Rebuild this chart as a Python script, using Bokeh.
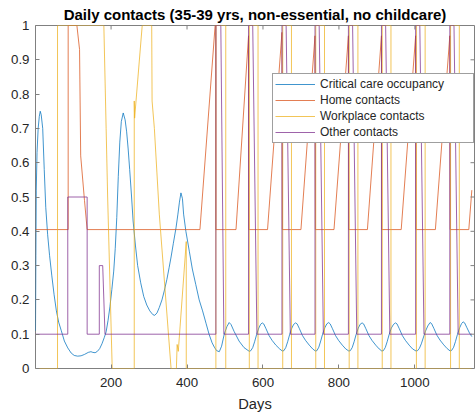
from bokeh.plotting import figure
from bokeh.models import Range1d, FixedTicker
from bokeh.embed import file_html
from bokeh.resources import INLINE

# ---- data (day, value) ----
cc_days = [1, 2, 3, 5, 8, 11, 13.5, 16, 20, 24, 28, 33, 38, 44, 50, 56, 62, 69, 77, 86,
           95, 103, 112, 121, 130, 140, 147, 152, 158, 164, 170, 176, 182, 187, 192, 197,
           202, 207, 211, 215, 219, 223, 227, 232, 237, 241, 245, 249, 254, 258, 264, 270,
           278, 286, 294, 302, 310, 315, 321, 327, 334, 340, 347, 353, 358, 364, 371, 376,
           380, 384, 388, 391, 397, 406, 414, 423, 432, 441, 450, 458, 466, 472, 478, 485,
           491, 498, 505, 511, 516, 524, 537, 550,
           564, 568, 573, 578, 583, 589, 594, 598, 602, 608, 616, 624, 634, 644,
           651, 655, 660, 665, 670, 676, 681, 686, 690, 696, 704, 712, 722, 731,
           738, 742, 747, 752, 757, 763, 768, 773, 777, 783, 791, 799, 809, 818,
           826, 830, 835, 840, 845, 851, 856, 861, 865, 871, 879, 887, 897, 906,
           913, 917, 922, 927, 932, 938, 944, 949, 953, 959, 967, 975, 985, 994,
           1003, 1007, 1012, 1017, 1022, 1028, 1034, 1040, 1044, 1050, 1058, 1066, 1076, 1085,
           1093, 1097, 1102, 1107, 1112, 1118, 1123, 1127, 1131, 1137, 1144, 1150]
cc_vals = [0.11, 0.33, 0.52, 0.63, 0.70, 0.735, 0.75, 0.74, 0.70, 0.58, 0.47, 0.39, 0.33, 0.27,
           0.215, 0.168, 0.135, 0.11, 0.08, 0.06, 0.045, 0.038, 0.036, 0.037, 0.041, 0.047,
           0.049, 0.047, 0.046, 0.05, 0.058, 0.072, 0.09, 0.107, 0.14, 0.18, 0.23, 0.284,
           0.35, 0.44, 0.56, 0.66, 0.72, 0.745, 0.725, 0.69, 0.64, 0.58, 0.50, 0.43, 0.36,
           0.30, 0.25, 0.21, 0.185, 0.168, 0.157, 0.155, 0.162, 0.178, 0.2, 0.226, 0.26,
           0.295, 0.325, 0.365, 0.41, 0.45, 0.485, 0.512, 0.495, 0.45, 0.40, 0.342, 0.29,
           0.245, 0.2, 0.168, 0.132, 0.1, 0.075, 0.062, 0.052, 0.049, 0.065, 0.1, 0.122,
           0.134, 0.128, 0.108, 0.08, 0.061,
           0.05, 0.052, 0.061, 0.078, 0.098, 0.118, 0.129, 0.133, 0.13, 0.116, 0.096, 0.082, 0.068, 0.057,
           0.051, 0.052, 0.061, 0.078, 0.098, 0.118, 0.129, 0.133, 0.13, 0.116, 0.096, 0.082, 0.068, 0.057,
           0.051, 0.052, 0.062, 0.08, 0.1, 0.119, 0.13, 0.134, 0.13, 0.116, 0.096, 0.082, 0.068, 0.057,
           0.051, 0.052, 0.061, 0.078, 0.098, 0.118, 0.129, 0.133, 0.13, 0.116, 0.096, 0.082, 0.068, 0.057,
           0.051, 0.052, 0.061, 0.078, 0.098, 0.118, 0.129, 0.133, 0.13, 0.116, 0.096, 0.082, 0.068, 0.057,
           0.051, 0.052, 0.059, 0.072, 0.089, 0.109, 0.124, 0.134, 0.131, 0.117, 0.097, 0.083, 0.069, 0.058,
           0.051, 0.053, 0.062, 0.079, 0.099, 0.119, 0.131, 0.136, 0.133, 0.119, 0.103, 0.093]

home_days = [1, 87, 87, 110, 117, 120, 130, 137, 434, 474, 476, 476, 529, 562, 563, 612,
             650, 651, 700, 737, 738, 787, 825, 826, 875, 912, 913, 964, 1002, 1003,
             1054, 1092, 1093, 1142, 1150]
home_vals = [0.405, 0.405, 1.0, 1.0, 0.93, 0.62, 0.49, 0.405, 0.405, 1.0, 1.0, 0.405,
             0.405, 0.97, 0.405, 0.405, 0.98, 0.405, 0.405, 0.97, 0.405, 0.405, 0.97,
             0.405, 0.405, 0.97, 0.405, 0.405, 0.97, 0.405, 0.405, 0.97, 0.405, 0.405, 0.52]

work_days = [1, 59, 59, 181, 187, 191, 203, 261, 261, 262, 282, 307, 308, 314, 327, 358,
             372, 374, 377, 398, 398, 476, 476, 502, 502,
             564, 564, 587, 587, 652, 652, 675, 675, 739, 739, 762, 762,
             827, 827, 850, 850, 914, 914, 937, 937, 1004, 1004, 1027, 1027,
             1094, 1094, 1117, 1117, 1150]
work_vals = [0, 0, 1, 1, 0.7, 0.5, 0, 0, 0.78, 0.73, 1, 1, 0.78, 0.70, 0.45, 0,
             0, 0.07, 0.05, 0.37, 0, 0, 1, 1, 0,
             0, 1, 1, 0, 0, 1, 1, 0, 0, 1, 1, 0,
             0, 1, 1, 0, 0, 1, 1, 0, 0, 1, 1, 0,
             0, 1, 1, 0, 0]

other_days = [1, 86, 86, 137, 137, 169, 169, 178, 184, 476, 476, 489, 497,
              562, 562, 573, 584, 650, 650, 661, 672, 737, 737, 748, 759,
              825, 825, 836, 847, 912, 912, 923, 934, 1002, 1002, 1013, 1024,
              1092, 1092, 1103, 1114, 1150]
other_vals = [0.1, 0.1, 0.5, 0.5, 0.1, 0.1, 0.3, 0.3, 0.1, 0.1, 1, 1, 0.1,
              0.1, 1, 1, 0.1, 0.1, 1, 1, 0.1, 0.1, 1, 1, 0.1,
              0.1, 1, 1, 0.1, 0.1, 1, 1, 0.1, 0.1, 1, 1, 0.1,
              0.1, 1, 1, 0.1, 0.1]

x_ticks = [200, 400, 600, 800, 1000]
y_ticks = [0, 0.1, 0.2, 0.3, 0.4, 0.5, 0.6, 0.7, 0.8, 0.9, 1]
y_tick_labels = ["0", "0.1", "0.2", "0.3", "0.4", "0.5", "0.6", "0.7", "0.8", "0.9", "1"]

FONT = "Liberation Sans"
AX = "#808080"
TXT = "#262626"

X0, X1 = 1, 1157
Y0, Y1 = 0, 1
FRAME_W, FRAME_H = 439, 344
TICK_PX = 4

p = figure(width=475, height=417, output_backend="svg", toolbar_location=None,
           x_range=Range1d(X0, X1), y_range=Range1d(Y0, Y1),
           min_border_left=35, min_border_right=1, min_border_top=24, min_border_bottom=49)
p.background_fill_color = "white"
p.border_fill_color = "white"
p.outline_line_color = AX
p.outline_line_width = 1
p.xgrid.visible = False
p.ygrid.visible = False

p.title.text = "Daily contacts (35-39 yrs, non-essential, no childcare)"
p.title.align = "center"
p.title.text_font = FONT
p.title.text_font_style = "bold"
p.title.text_font_size = "15px"
p.title.text_color = "black"
p.title.standoff = 6

series = [
    (cc_days, cc_vals, "#0072BD", "Critical care occupancy"),
    (home_days, home_vals, "#D95319", "Home contacts"),
    (work_days, work_vals, "#EDB120", "Workplace contacts"),
    (other_days, other_vals, "#7E2F8E", "Other contacts"),
]
for xs, ys, col, name in series:
    p.line(xs, ys, line_color=col, line_width=1, line_alpha=0.75, legend_label=name)

# inward ticks mirrored on the top and right edges of the box
dx = TICK_PX * (X1 - X0) / FRAME_W
dy = TICK_PX * (Y1 - Y0) / FRAME_H
p.segment(x0=x_ticks, y0=[Y1] * len(x_ticks), x1=x_ticks, y1=[Y1 - dy] * len(x_ticks),
          line_color=AX, line_width=1)
p.segment(x0=[X1] * len(y_ticks), y0=y_ticks, x1=[X1 - dx] * len(y_ticks), y1=y_ticks,
          line_color=AX, line_width=1)

# bottom / left axes with labels
p.xaxis.ticker = FixedTicker(ticks=x_ticks)
p.yaxis.ticker = FixedTicker(ticks=y_ticks)
p.yaxis.major_label_overrides = {v: s for v, s in zip(y_ticks, y_tick_labels)}
for ax in (p.xaxis[0], p.yaxis[0]):
    ax.axis_line_color = None
    ax.major_tick_in = TICK_PX
    ax.major_tick_out = 0
    ax.major_tick_line_color = AX
    ax.minor_tick_line_color = None
    ax.major_label_text_font = FONT
    ax.major_label_text_font_size = "13.3px"
    ax.major_label_text_color = TXT
p.yaxis.major_label_standoff = 6
p.xaxis.major_label_standoff = 9
p.xaxis.axis_label = "Days"
p.xaxis.axis_label_standoff = 6
p.xaxis.axis_label_text_font = FONT
p.xaxis.axis_label_text_font_size = "14.7px"
p.xaxis.axis_label_text_font_style = "normal"
p.xaxis.axis_label_text_color = TXT

# legend
lg = p.legend[0]
lg.location = (237, 225)
lg.glyph_width = 40
lg.glyph_height = 16
lg.label_height = 16
lg.label_width = 151
lg.label_standoff = 5
lg.spacing = 0
lg.padding = 2
lg.margin = 0
lg.border_line_color = "#404040"
lg.border_line_width = 1
lg.background_fill_color = "white"
lg.background_fill_alpha = 1
lg.label_text_font = FONT
lg.label_text_font_size = "12px"
lg.label_text_color = TXT

open("out.html", "w").write(file_html(p, INLINE))
